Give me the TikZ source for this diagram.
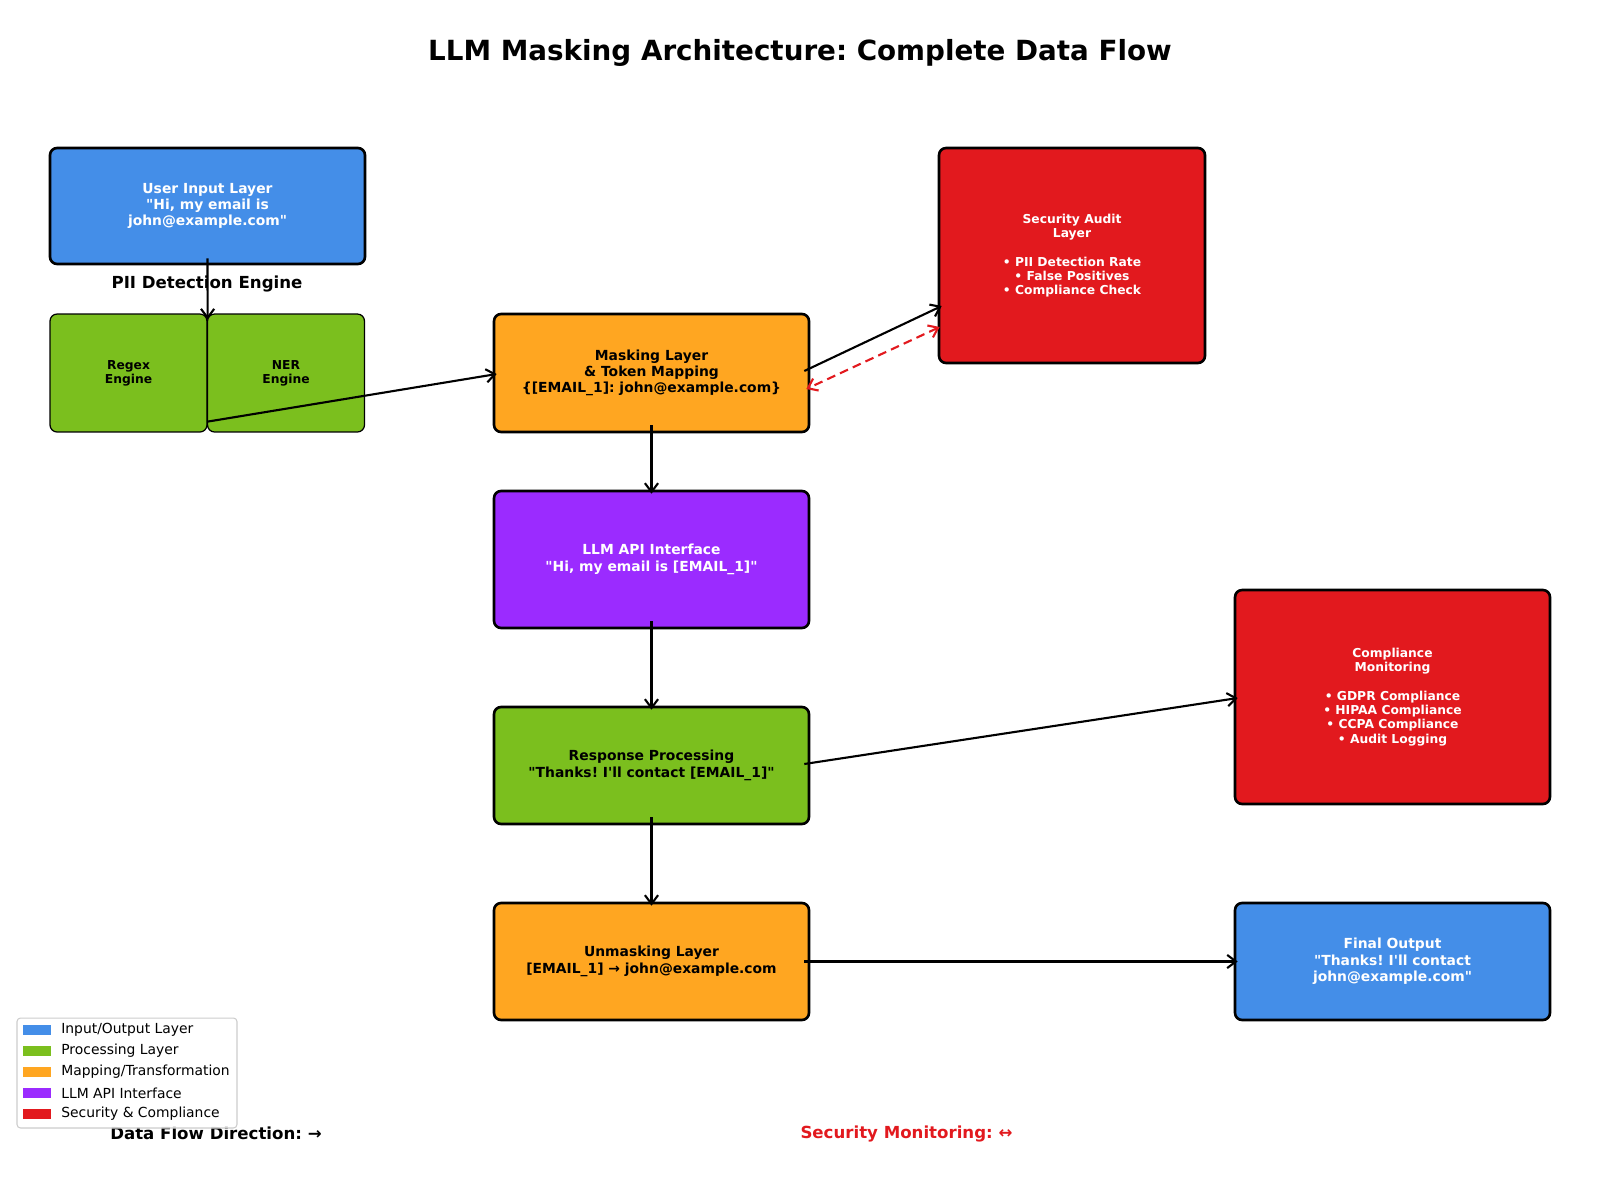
\documentclass[tikz,border=0pt]{standalone}
\usepackage{fontspec}
\setmainfont{DejaVu Sans}[Ligatures=TeXOff]
\usepackage{xcolor}
\definecolor{ioblue}{HTML}{448EE8}
\definecolor{procgreen}{HTML}{7BBF1E}
\definecolor{maporange}{HTML}{FFA621}
\definecolor{apipurple}{HTML}{9B2BFF}
\definecolor{secred}{HTML}{E2191E}
\usetikzlibrary{calc}
\usetikzlibrary{arrows.meta}

\tikzset{
  layer/.style={draw=black, line width=1.5pt, rounded corners=4pt, align=center,
    inner sep=0pt, minimum width=6.3cm, font=\fontsize{7.9}{9.3}\selectfont\bfseries},
  engine/.style={draw=black, line width=0.7pt, rounded corners=4pt, align=center,
    inner sep=0pt, fill=procgreen, minimum width=3.14cm, minimum height=2.36cm,
    font=\fontsize{7.0}{8.1}\selectfont\bfseries},
  audit/.style={layer, fill=secred, text=white, font=\fontsize{7.0}{8.1}\selectfont\bfseries},
  flow/.style={-{Straight Barb[length=5pt, width=7.5pt]}, line width=1.2pt},
  monitor/.style={{Straight Barb[length=5pt, width=7.5pt]}-{Straight Barb[length=5pt, width=7.5pt]},
    line width=1.2pt, dashed, dash pattern=on 5pt off 3pt, secred},
  keypatch/.style={fill=#1, minimum width=0.56cm, minimum height=0.2cm, inner sep=0pt},
}

\begin{document}
\frenchspacing
\begin{tikzpicture}[x=0.02cm, y=-0.02cm]
\useasboundingbox (0, 0) rectangle (1600, 1198);

\node[font=\fontsize{15.8}{18}\selectfont\bfseries] (title) at (800, 53)
  {LLM Masking Architecture: Complete Data Flow};

% left column
\node[layer, fill=ioblue, text=white, minimum height=2.32cm] (user) at (207.5, 206)
  {User Input Layer\\"Hi, my email is\\john@example.com"};
\node[font=\fontsize{9.45}{11}\selectfont\bfseries] (pii) at (207, 284) {PII Detection Engine};
\node[engine] (regex) at (128.5, 373) {Regex\\Engine};
\node[engine] (ner) at (286, 373) {NER\\Engine};

% middle column
\node[layer, fill=maporange, minimum height=2.36cm] (mask) at (651.5, 373)
  {Masking Layer\\\& Token Mapping\\\{[EMAIL\_1]: john@example.com\}};
\node[layer, fill=apipurple, text=white, minimum height=2.74cm] (llm) at (651.5, 559.5)
  {LLM API Interface\\"Hi, my email is [EMAIL\_1]"};
\node[layer, fill=procgreen, minimum height=2.34cm] (resp) at (651.5, 765.5)
  {Response Processing\\"Thanks! I'll contact [EMAIL\_1]"};
\node[layer, fill=maporange, minimum height=2.34cm] (unmask) at (651.5, 961.5)
  {Unmasking Layer\\{[EMAIL\_1]} → john@example.com};

% right column
\node[audit, minimum width=5.32cm, minimum height=4.3cm] (sec) at (1072, 255.5)
  {Security Audit\\Layer\\[8.1pt]• PII Detection Rate\\• False Positives\\• Compliance Check};
\node[audit, minimum height=4.28cm] (comp) at (1392.5, 697)
  {Compliance\\Monitoring\\[8.1pt]• GDPR Compliance\\• HIPAA Compliance\\• CCPA Compliance\\• Audit Logging};
\node[layer, fill=ioblue, text=white, minimum height=2.34cm] (final) at (1392.5, 961.5)
  {Final Output\\"Thanks! I'll contact\\john@example.com"};

% connectors
\draw[flow] ($(user.south)+(0,-7)$) -- ($(regex.north east)+(0,6)$);
\draw[flow] ($(regex.south east)+(0,-11)$) -- ($(mask.west)+(4,1)$);
\draw[flow] ($(mask.east)+(-6,-2)$) -- ($(sec.west)+(4,50.5)$);
\draw[monitor] ($(sec.west)+(2,71.5)$) -- ($(mask.east)+(-4,16)$);
\draw[flow] ($(mask.south)+(0,-8)$) -- ($(llm.north)+(0,4)$);
\draw[flow] ($(llm.south)+(0,-8)$) -- ($(resp.north)+(0,4)$);
\draw[flow] ($(resp.east)+(-6,-1.5)$) -- ($(comp.west)+(4,1)$);
\draw[flow] ($(resp.south)+(0,-8)$) -- ($(unmask.north)+(0,4)$);
\draw[flow] ($(unmask.east)+(-6,0)$) -- ($(final.west)+(4,0)$);

% footer
\node[font=\fontsize{9.45}{11}\selectfont\bfseries] (dataflow) at (216, 1133) {Data Flow Direction: →};
\node[font=\fontsize{9.45}{11}\selectfont\bfseries, text=secred] (secmon) at (906.5, 1134)
  {Security Monitoring: ↔};

% legend
\node[draw=black!20, fill=white, fill opacity=0.8, rounded corners=2pt, line width=0.6pt,
  minimum width=4.4cm, minimum height=2.2cm, inner sep=0pt] (legend) at (127, 1073) {};
\foreach \col/\txt [count=\i] in {ioblue/{Input/Output Layer}, procgreen/{Processing Layer},
    maporange/{Mapping/Transformation}, apipurple/{LLM API Interface}, secred/{Security \& Compliance}} {
  \node[keypatch=\col] (key\i) at (37, 1009+21*\i) {};
  \node[anchor=west, inner sep=0pt, font=\fontsize{7.9}{9.3}\selectfont] (lab\i) at (61, 1009+21*\i) {\txt};
}
\end{tikzpicture}
\end{document}
